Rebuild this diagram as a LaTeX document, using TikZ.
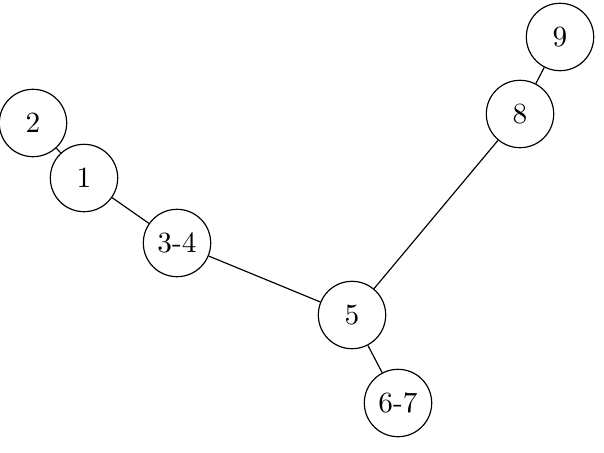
\documentclass[tikz,border=0pt]{standalone}
\usetikzlibrary{positioning}

\begin{document}
\begin{tikzpicture}[
  x=0.012cm, y=-0.012cm,
  vertex/.style={draw, circle, minimum size=23pt, inner sep=1pt},
  edge/.style={draw},
  ]
\useasboundingbox (0,0) rectangle (604,452);

\node[vertex] (n2)  at (33,123)  {2};
\node[vertex] (n1)  at (84,178)  {1};
\node[vertex] (n34) at (177,243) {3-4};
\node[vertex] (n5)  at (352,315) {5};
\node[vertex] (n67) at (398,403) {6-7};
\node[vertex] (n8)  at (520,114) {8};
\node[vertex] (n9)  at (560,37)  {9};

\draw[edge] (n2) -- (n1);
\draw[edge] (n1) -- (n34);
\draw[edge] (n34) -- (n5);
\draw[edge] (n5) -- (n67);
\draw[edge] (n5) -- (n8);
\draw[edge] (n8) -- (n9);
\end{tikzpicture}
\end{document}
